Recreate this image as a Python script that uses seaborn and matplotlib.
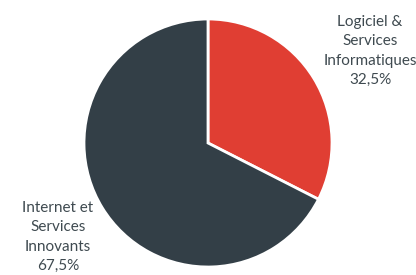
import matplotlib
matplotlib.use("Agg")
import matplotlib.pyplot as plt
import seaborn as sns
import numpy as np

categories = ["Logiciel &\nServices\nInformatiques", "Internet et\nServices\nInnovants"]
values = [32.5, 67.5]
value_labels = ["32,5%", "67,5%"]
colors = ["#E03E33", "#333F47"]

sns.set_theme(style="white")
plt.rcParams['font.family'] = ['Lato', 'DejaVu Sans']

fig = plt.figure(figsize=(4.16, 2.75), dpi=100)
ax = fig.add_axes([0, 0, 1, 1])
R = 124.0

labels = [f"{c}\n{v}" for c, v in zip(categories, value_labels)]
wedges, texts = ax.pie(values, colors=colors, startangle=90, counterclock=False,
                       labels=labels, labeldistance=1.5, radius=1.0,
                       wedgeprops=dict(edgecolor="white", linewidth=2),
                       textprops=dict(color="#3F4A50", fontsize=11, linespacing=1.48))
ax.set_xlim(-208 / R, 208 / R)
ax.set_ylim(-132 / R, 143 / R)
ax.set_aspect("equal")
ax.axis("off")
for t in texts:
    t.set_ha("center")
    t.set_va("center")
texts[0].set_position((162 / R, 92 / R))
texts[1].set_position((-150 / R, -94 / R))

fig.savefig("out.png", dpi=100)
